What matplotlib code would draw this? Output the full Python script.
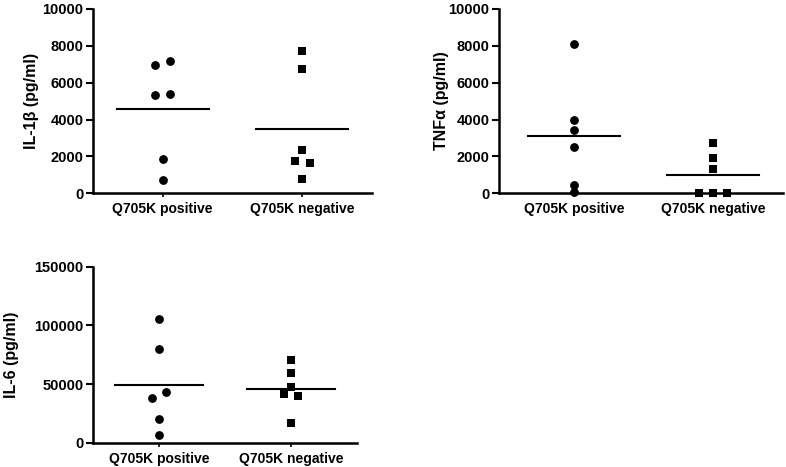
import matplotlib
matplotlib.use("Agg")
import matplotlib.pyplot as plt
import numpy as np

plt.rcParams['font.family'] = ['Liberation Sans', 'DejaVu Sans']
plt.rcParams['font.weight'] = 'bold'

categories = ["Q705K positive", "Q705K negative"]

il1b_pos = [6950, 7200, 5350, 5400, 1870, 740]
il1b_neg = [7730, 6720, 2330, 1730, 1625, 760]
tnf_pos = [8100, 3970, 3445, 2508, 466, 70]
tnf_neg = [2740, 1912, 1316, 0, 0, 0]
il6_pos = [105700, 79600, 38100, 43200, 19900, 6560]
il6_neg = [70500, 59100, 47700, 41200, 39800, 17000]

il1b_ticks = [0, 2000, 4000, 6000, 8000, 10000]
tnf_ticks = [0, 2000, 4000, 6000, 8000, 10000]
il6_ticks = [0, 50000, 100000, 150000]

# horizontal jitter (layout)
off_il1b_pos = [-0.055, 0.055, -0.055, 0.055, 0, 0]
off_il1b_neg = [0, 0, 0, -0.055, 0.055, 0]
off_tnf_pos = [0, 0, 0, 0, 0, 0]
off_tnf_neg = [0, 0, 0, -0.1, 0, 0.1]
off_il6_pos = [0, 0, -0.055, 0.055, 0, 0]
off_il6_neg = [0, 0, 0, -0.055, 0.055, 0]

fig = plt.figure(figsize=(7.86, 4.67), dpi=100)

def panel(rect, pos, neg, opos, oneg, ticks, ylabel, xlim, labelx):
    ax = fig.add_axes(rect)
    ax.scatter(np.zeros(len(pos)) + np.array(opos), pos, marker='o', s=40,
               color='black', clip_on=False, zorder=3, linewidths=0)
    ax.scatter(np.ones(len(neg)) + np.array(oneg), neg, marker='s', s=38,
               color='black', clip_on=False, zorder=3, linewidths=0)
    for i, vals in enumerate([pos, neg]):
        m = np.mean(vals)
        ax.plot([i - 0.33, i + 0.33], [m, m], color='black', lw=1.5, zorder=2)
    ax.set_xlim(*xlim)
    ax.set_ylim(ticks[0], ticks[-1])
    ax.set_yticks(ticks)
    ax.set_yticklabels([str(t) for t in ticks], fontsize=10.5, fontweight='bold')
    ax.set_xticks([0, 1])
    ax.set_xticklabels(categories, fontsize=10, fontweight='bold')
    for s in ['top', 'right']:
        ax.spines[s].set_visible(False)
    for s in ['left', 'bottom']:
        ax.spines[s].set_linewidth(1.8)
    ax.tick_params(axis='y', length=5, width=1.5, pad=2)
    ax.tick_params(axis='x', length=3, width=1.2, pad=3.5)
    ax.set_ylabel(ylabel, fontsize=11.5, fontweight='bold')
    ax.yaxis.set_label_coords(labelx, 0.5)
    return ax

panel([0.1183, 0.586, 0.355, 0.395], il1b_pos, il1b_neg, off_il1b_pos, off_il1b_neg,
      il1b_ticks, "IL-1β (pg/ml)", (-0.5, 1.5), -0.194)
panel([0.6349, 0.586, 0.3613, 0.395], tnf_pos, tnf_neg, off_tnf_pos, off_tnf_neg,
      tnf_ticks, "TNFα (pg/ml)", (-0.54, 1.5), -0.176)
panel([0.1183, 0.052, 0.3359, 0.377], il6_pos, il6_neg, off_il6_pos, off_il6_neg,
      il6_ticks, "IL-6 (pg/ml)", (-0.5, 1.5), -0.28)

fig.savefig("out.png", dpi=100)
